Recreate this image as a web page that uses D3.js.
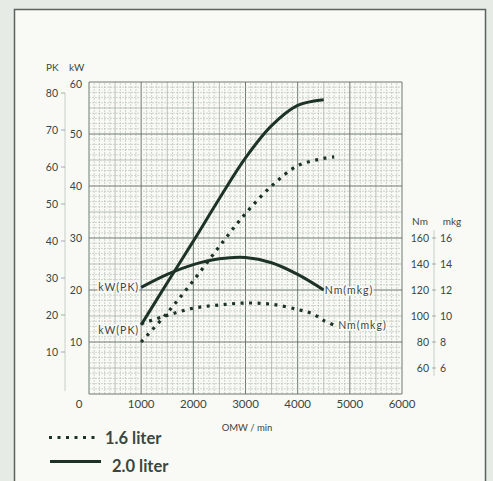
<!DOCTYPE html>
<html>
<head>
<meta charset="utf-8">
<script src="https://cdn.jsdelivr.net/npm/d3@7"></script>
<style>
  body { margin: 0; background: #e7ebe5; }
  text { font-family: Lato, "Open Sans", sans-serif; fill: #3a473f; }
</style>
</head>
<body>
<svg id="chart"></svg>
<script>
// axis ticks
const rpmTicks = [0, 1000, 2000, 3000, 4000, 5000, 6000];
const pkTicks = [10, 20, 30, 40, 50, 60, 70, 80];
const kwTicks = [10, 20, 30, 40, 50, 60];
const nmTicks = [60, 80, 100, 120, 140, 160];
const mkgTicks = [6, 8, 10, 12, 14, 16];

// 2.0 liter
const rpm20 = [1000, 1500, 2000, 2500, 3000, 3500, 4000, 4500];
const kw20 = [13.3, 21.4, 29.4, 37.6, 45.4, 51.6, 55.5, 56.6];
const nm20 = [122, 132, 139.5, 144, 145, 141, 132, 120];

// 1.6 liter
const rpm16 = [1000, 1500, 2000, 2500, 3000, 3500, 4000, 4500, 4700];
const kw16 = [10, 15.6, 21.8, 28.4, 34.7, 40, 43.9, 45.3, 45.6];
const rpm16t = [1000, 1500, 2000, 2500, 3000, 3500, 4000, 4300, 4500, 4700];
const nm16 = [94, 100.5, 106, 108.5, 110, 109, 105, 101.5, 96.5, 93];

const ink = '#1d3327';
const W = 493, H = 481;

const svg = d3.select('#chart').attr('width', W).attr('height', H);

// page frame
svg.append('rect')
  .attr('x', 14.5).attr('y', 9.5)
  .attr('width', 471).attr('height', 490)
  .attr('fill', '#f9faf6')
  .attr('stroke', '#5a635d')
  .attr('stroke-width', 1.5);

const x = d3.scaleLinear().domain([0, 6000]).range([89, 402]);
const yKw = d3.scaleLinear().domain([0, 60]).range([394, 82]);
const yPk = d3.scaleLinear().domain([0, 80]).range([389, 93]);
const yNm = d3.scaleLinear().domain([40, 160]).range([394, 238]);

// graph paper
const grid = svg.append('g');
grid.selectAll('.vmin')
  .data(d3.range(0, 6001, 100))
  .enter().append('line')
  .attr('x1', d => x(d)).attr('x2', d => x(d))
  .attr('y1', yKw(0)).attr('y2', yKw(60))
  .attr('stroke', d => d % 1000 === 0 ? '#5f6d63' : (d % 500 === 0 ? '#8e9a90' : '#aeb8af'))
  .attr('stroke-width', d => d % 1000 === 0 ? 0.9 : 0.6)
  .attr('stroke-dasharray', d => d % 500 === 0 ? null : '2,1');
grid.selectAll('.hmin')
  .data(d3.range(0, 61, 1))
  .enter().append('line')
  .attr('x1', x(0)).attr('x2', x(6000))
  .attr('y1', d => yKw(d)).attr('y2', d => yKw(d))
  .attr('stroke', d => d % 10 === 0 ? '#5f6d63' : (d % 5 === 0 ? '#8e9a90' : '#aeb8af'))
  .attr('stroke-width', d => d % 10 === 0 ? 0.9 : 0.6)
  .attr('stroke-dasharray', d => d % 5 === 0 ? null : '2,1');

// x axis labels
svg.append('g').selectAll('text')
  .data(rpmTicks)
  .enter().append('text')
  .attr('x', d => x(d) + (d === 0 ? -10 : 0))
  .attr('y', 408)
  .attr('text-anchor', 'middle')
  .attr('font-size', 11.5)
  .text(d => d);

svg.append('text')
  .attr('x', 247).attr('y', 431)
  .attr('text-anchor', 'middle')
  .attr('font-size', 9.5)
  .text('OMW / min');

// left axes
svg.append('line')
  .attr('x1', 65).attr('x2', 65)
  .attr('y1', yPk(80)).attr('y2', 391)
  .attr('stroke', '#bcc4be').attr('stroke-width', 0.8);

const pkAxis = svg.append('g').selectAll('g')
  .data(pkTicks)
  .enter().append('g')
  .attr('transform', d => `translate(0,${yPk(d)})`);
pkAxis.append('line')
  .attr('x1', 61).attr('x2', 65)
  .attr('stroke', '#8f9a92').attr('stroke-width', 0.8);
pkAxis.append('text')
  .attr('x', 58).attr('dy', '0.35em')
  .attr('text-anchor', 'end')
  .attr('font-size', 10.5)
  .text(d => d);

svg.append('g').selectAll('text')
  .data(kwTicks)
  .enter().append('text')
  .attr('x', 82).attr('y', d => yKw(d))
  .attr('dy', d => d === 60 ? '0.55em' : '0.4em')
  .attr('text-anchor', 'end')
  .attr('font-size', 10.5)
  .text(d => d);

svg.append('text').attr('x', 46).attr('y', 71).attr('font-size', 10).text('PK');
svg.append('text').attr('x', 69).attr('y', 71).attr('font-size', 10).text('kW');

// right axis
svg.append('line')
  .attr('x1', 434).attr('x2', 434)
  .attr('y1', yNm(166)).attr('y2', yNm(54))
  .attr('stroke', '#bcc4be').attr('stroke-width', 0.8);
const nmAxis = svg.append('g').selectAll('g')
  .data(nmTicks)
  .enter().append('g')
  .attr('transform', d => `translate(0,${yNm(d)})`);
nmAxis.append('line')
  .attr('x1', 432).attr('x2', 436)
  .attr('stroke', '#8f9a92').attr('stroke-width', 0.8);
nmAxis.append('text')
  .attr('x', 429).attr('dy', '0.4em')
  .attr('text-anchor', 'end')
  .attr('font-size', 10.5)
  .text(d => d);
nmAxis.append('text')
  .data(mkgTicks)
  .attr('x', 440).attr('dy', '0.4em')
  .attr('font-size', 10.5)
  .text(d => d);

svg.append('text').attr('x', 420).attr('y', 225).attr('text-anchor', 'middle').attr('font-size', 10).text('Nm');
svg.append('text').attr('x', 452).attr('y', 225).attr('text-anchor', 'middle').attr('font-size', 10).text('mkg');

// curves
const lineKw = d3.line().x(d => x(d[0])).y(d => yKw(d[1])).curve(d3.curveCatmullRom.alpha(0.5));
const lineNm = d3.line().x(d => x(d[0])).y(d => yNm(d[1])).curve(d3.curveCatmullRom.alpha(0.5));

const solid = path => path.attr('fill', 'none').attr('stroke', ink).attr('stroke-width', 3);
const dotted = path => path.attr('fill', 'none').attr('stroke', ink).attr('stroke-width', 3.2)
  .attr('stroke-dasharray', '3,5.5');

svg.append('path').attr('d', lineKw(d3.zip(rpm16, kw16))).call(dotted);
svg.append('path').attr('d', lineNm(d3.zip(rpm16t, nm16))).call(dotted);
svg.append('path').attr('d', lineKw(d3.zip(rpm20, kw20))).call(solid);
svg.append('path').attr('d', lineNm(d3.zip(rpm20, nm20))).call(solid);

// curve labels
const label = (tx, ty, anchor, txt) => svg.append('text')
  .attr('x', tx).attr('y', ty).attr('dy', '0.35em')
  .attr('text-anchor', anchor)
  .attr('font-size', 10.5)
  .attr('letter-spacing', 1)
  .attr('stroke', '#f9faf6').attr('stroke-width', 3).attr('paint-order', 'stroke')
  .text(txt);

label(x(rpm20[0]) - 2, yNm(nm20[0]), 'end', 'kW(PK)');
label(x(rpm20[0]) - 2, yKw(kw20[0]) + 5, 'end', 'kW(PK)');
label(x(rpm20[rpm20.length - 1]) + 1, yNm(nm20[nm20.length - 1]), 'start', 'Nm(mkg)');
label(x(rpm16t[rpm16t.length - 1]) + 4, yNm(nm16[nm16.length - 1]), 'start', 'Nm(mkg)');

// legend
svg.append('line').attr('x1', 49).attr('x2', 100).attr('y1', 437.5).attr('y2', 437.5).call(dotted);
svg.append('line').attr('x1', 50).attr('x2', 101).attr('y1', 461.5).attr('y2', 461.5).call(solid);
svg.append('text').attr('x', 105).attr('y', 443.5)
  .attr('font-size', 16.5).attr('font-weight', 'bold').attr('fill', ink).text('1.6 liter');
svg.append('text').attr('x', 112).attr('y', 472)
  .attr('font-size', 16.5).attr('font-weight', 'bold').attr('fill', ink).text('2.0 liter');
</script>
</body>
</html>
